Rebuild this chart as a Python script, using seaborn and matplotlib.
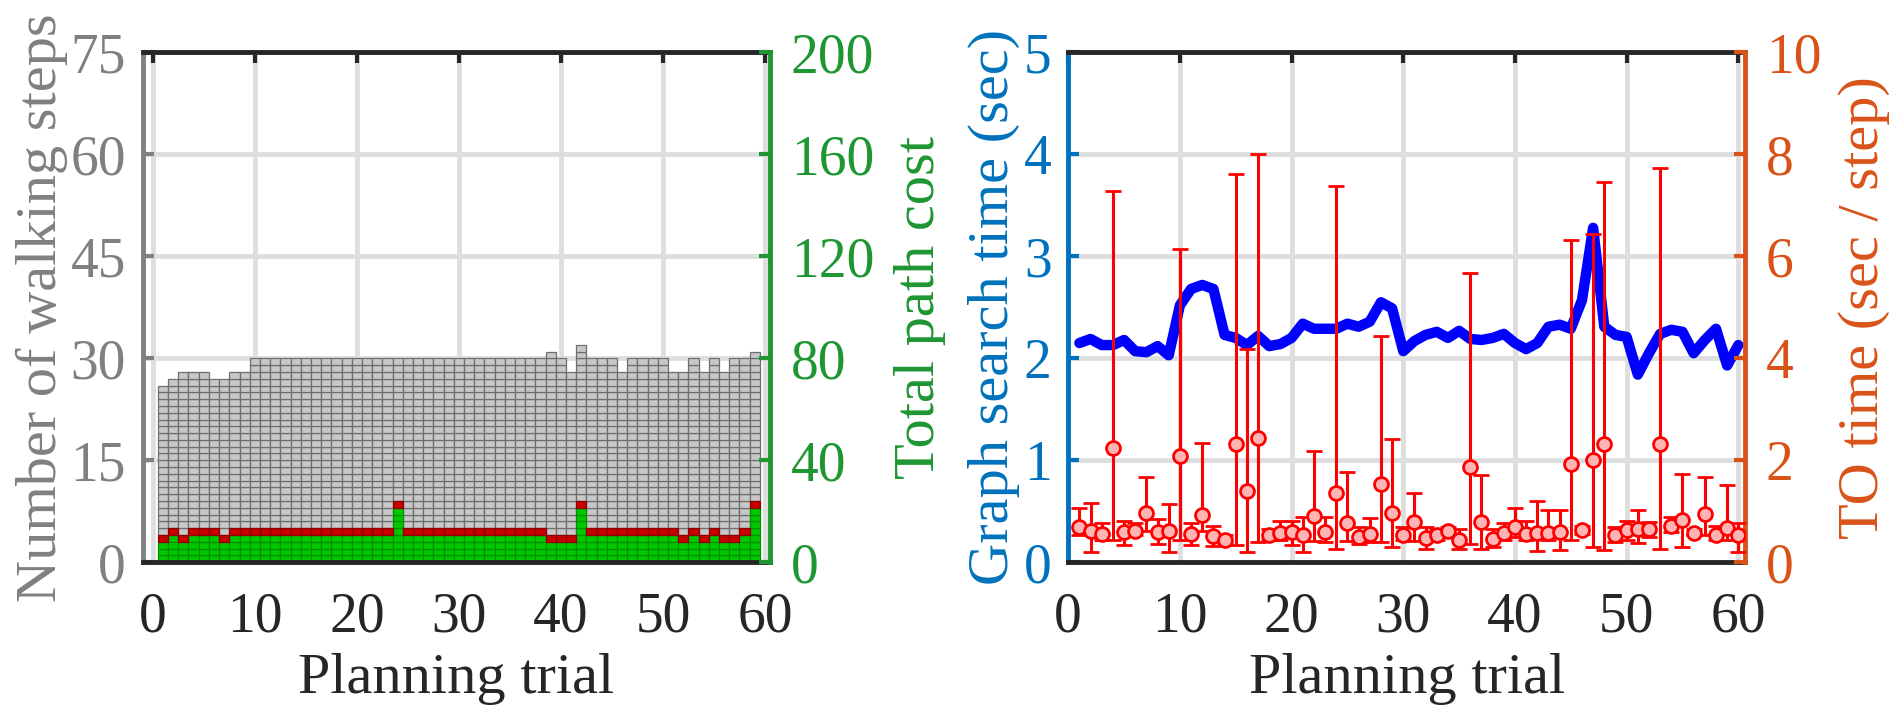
import numpy as np
import pandas as pd
import matplotlib.pyplot as plt
import seaborn as sns

# ================================================================
# Left panel: walking steps per planning trial (stacked unit cells)
bar_trials = list(range(1, 60))
total_steps = [26, 27, 28, 28, 28, 27, 27, 28, 28, 30,
               30, 30, 30, 30, 30, 30, 30, 30, 30, 30,
               30, 30, 30, 30, 30, 30, 30, 30, 30, 30,
               30, 30, 30, 30, 30, 30, 30, 30, 31, 30,
               28, 32, 30, 30, 30, 28, 30, 30, 30, 30,
               28, 28, 30, 28, 30, 28, 30, 30, 31]
green_steps = [3, 4, 3, 4, 4, 4, 3, 4, 4, 4,
               4, 4, 4, 4, 4, 4, 4, 4, 4, 4,
               4, 4, 4, 8, 4, 4, 4, 4, 4, 4,
               4, 4, 4, 4, 4, 4, 4, 4, 3, 3,
               3, 8, 4, 4, 4, 4, 4, 4, 4, 4,
               4, 3, 4, 3, 4, 3, 3, 4, 8]
red_steps = [1] * 59

# Right panel: graph search time and TO time per step
trials = list(range(1, 61))
search_time = [2.15, 2.19, 2.13, 2.13, 2.18, 2.07, 2.06, 2.12, 2.03, 2.52,
               2.68, 2.72, 2.68, 2.23, 2.20, 2.13, 2.22, 2.12, 2.14, 2.20,
               2.34, 2.29, 2.29, 2.29, 2.34, 2.31, 2.36, 2.55, 2.49, 2.07,
               2.17, 2.23, 2.26, 2.20, 2.27, 2.19, 2.18, 2.20, 2.24, 2.15,
               2.09, 2.15, 2.31, 2.33, 2.29, 2.57, 3.28, 2.31, 2.23, 2.21,
               1.84, 2.05, 2.24, 2.28, 2.26, 2.05, 2.18, 2.29, 1.93, 2.13]
to_mean = [0.70, 0.62, 0.56, 2.24, 0.59, 0.62, 0.97, 0.59, 0.62, 2.08,
           0.56, 0.92, 0.51, 0.44, 2.31, 1.40, 2.43, 0.54, 0.57, 0.59,
           0.53, 0.90, 0.60, 1.36, 0.77, 0.49, 0.56, 1.53, 0.97, 0.53,
           0.79, 0.48, 0.54, 0.62, 0.43, 1.86, 0.79, 0.46, 0.57, 0.69,
           0.56, 0.57, 0.57, 0.59, 1.92, 0.64, 2.00, 2.31, 0.53, 0.64,
           0.66, 0.66, 2.31, 0.72, 0.82, 0.57, 0.95, 0.54, 0.68, 0.53]
to_upper = [1.07, 1.17, 0.77, 7.28, 0.81, 0.76, 1.67, 0.85, 1.15, 6.15,
            0.77, 2.33, 0.72, 0.53, 7.61, 4.18, 8.01, 0.66, 0.81, 0.81,
            0.89, 2.18, 0.89, 7.39, 1.77, 0.70, 0.87, 4.43, 2.41, 0.70,
            1.36, 0.69, 0.66, 0.70, 0.66, 5.68, 1.71, 0.66, 0.76, 1.07,
            0.81, 1.20, 1.02, 1.03, 6.33, 0.72, 6.43, 7.45, 0.69, 0.81,
            1.02, 0.79, 7.74, 0.89, 1.74, 0.66, 1.67, 0.72, 1.51, 0.76]
to_lower = [0.53, 0.20, 0.44, 0.44, 0.33, 0.53, 0.62, 0.36, 0.20, 0.43,
            0.33, 0.62, 0.31, 0.36, 0.33, 0.20, 0.39, 0.44, 0.43, 0.33,
            0.20, 0.41, 0.39, 0.26, 0.41, 0.36, 0.39, 0.39, 0.30, 0.43,
            0.41, 0.26, 0.43, 0.49, 0.26, 0.36, 0.26, 0.30, 0.43, 0.49,
            0.43, 0.22, 0.43, 0.24, 0.43, 0.56, 0.30, 0.24, 0.39, 0.43,
            0.38, 0.49, 0.26, 0.59, 0.30, 0.53, 0.53, 0.43, 0.43, 0.20]
# ================================================================

GRAY = "#808080"
GREEN = "#1e9632"
BLUE = "#0072bd"
ORANGE = "#d95319"
DARK = "#262626"
GRID = "#dedede"
TICK_FS = 40
LABEL_FS = 42

sns.set_theme(style="white")
plt.rcParams["font.family"] = "serif"
plt.rcParams["font.serif"] = ["Liberation Serif", "Nimbus Roman", "Times New Roman", "DejaVu Serif"]

# Expand each bar into unit cells (one cell per walking step).
rows = []
for t, tot, g, r in zip(bar_trials, total_steps, green_steps, red_steps):
    for k in range(tot):
        kind = "green" if k < g else ("red" if k < g + r else "gray")
        rows.append((t, k, kind))
cells = pd.DataFrame(rows, columns=["trial", "bottom", "kind"])


def style_twin(ax, axr, left_color, right_color):
    for side in ["top", "bottom"]:
        ax.spines[side].set_color(DARK)
        ax.spines[side].set_linewidth(3.5)
    ax.spines["left"].set_color(left_color)
    ax.spines["left"].set_linewidth(3.5)
    ax.spines["right"].set_visible(False)
    for side in ["top", "bottom", "left"]:
        axr.spines[side].set_visible(False)
    axr.spines["right"].set_color(right_color)
    axr.spines["right"].set_linewidth(3.5)
    axr.grid(False)
    ax.grid(True, color=GRID, linewidth=3.5, zorder=0)
    ax.set_axisbelow(True)
    ax.tick_params(axis="x", direction="in", top=True, length=8, width=3, labelsize=TICK_FS,
                   colors=DARK, pad=21)
    ax.tick_params(axis="y", direction="in", length=8, width=3, labelsize=TICK_FS,
                   colors=left_color, pad=12)
    axr.tick_params(axis="y", direction="in", length=8, width=3, labelsize=TICK_FS,
                    colors=right_color, pad=15)


fig = plt.figure(figsize=(18.91, 7.09), dpi=100)

# ---------------- left panel ----------------
ax1 = fig.add_axes([0.0754, 0.207, 0.3318, 0.719])
cell_style = {"gray": ("#c8c8c8", "#6e6e6e"), "green": ("#00c800", "#009000"), "red": ("#c80000", "#8c0000")}
for kind, (face, edge) in cell_style.items():
    sub = cells[cells.kind == kind]
    ax1.bar(sub.trial, 1, bottom=sub.bottom, width=1.0, color=face, edgecolor=edge, linewidth=0.9, zorder=2)
ax1.set_xlim(-1, 60.5)
ax1.set_ylim(0, 75)
ax1.set_xticks(range(0, 61, 10))
ax1.set_yticks(range(0, 76, 15))
ax1.set_xlabel("Planning trial", fontsize=LABEL_FS, labelpad=7)
ax1.set_ylabel("Number of walking steps", fontsize=LABEL_FS, color=GRAY, labelpad=2)

ax1r = ax1.twinx()
ax1r.set_ylim(0, 200)
ax1r.set_yticks(range(0, 201, 40))
ax1r.set_ylabel("Total path cost", fontsize=LABEL_FS, color=GREEN, labelpad=14)
style_twin(ax1, ax1r, GRAY, GREEN)

# ---------------- right panel ----------------
ax2 = fig.add_axes([0.5649, 0.207, 0.3579, 0.719])
sns.lineplot(x=trials, y=search_time, ax=ax2, color="#0000ff", linewidth=7.5, zorder=3)
ax2.set_xlim(0, 60.6)
ax2.set_ylim(0, 5)
ax2.set_xticks(range(0, 61, 10))
ax2.set_yticks(range(0, 6))
ax2.set_xlabel("Planning trial", fontsize=LABEL_FS, labelpad=7)
ax2.set_ylabel("Graph search time (sec)", fontsize=LABEL_FS, color=BLUE, labelpad=3)

ax2r = ax2.twinx()
mean = np.array(to_mean)
yerr = np.vstack([mean - np.array(to_lower), np.array(to_upper) - mean])
ax2r.errorbar(trials, mean, yerr=yerr, fmt="o", color="#ff0000", ecolor="#ff0000", elinewidth=2.2,
              capsize=6, capthick=2.2, markersize=10, markerfacecolor="#ffb4b4",
              markeredgecolor="#ff0000", markeredgewidth=2, zorder=4)
ax2r.set_ylim(0, 10)
ax2r.set_yticks(range(0, 11, 2))
ax2r.set_ylabel("TO time (sec / step)", fontsize=LABEL_FS, color=ORANGE, labelpad=12)
style_twin(ax2, ax2r, BLUE, ORANGE)

plt.savefig("out.png", dpi=100)
